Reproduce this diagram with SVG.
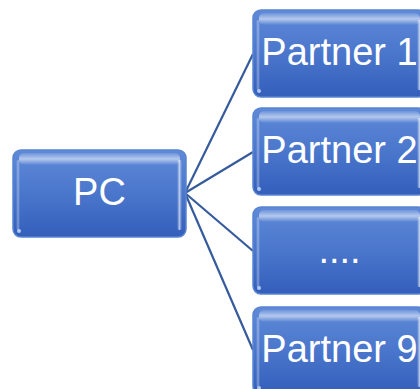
<svg xmlns="http://www.w3.org/2000/svg" width="420" height="389" viewBox="0 0 420 389">
<defs>
<linearGradient id="body" x1="0" y1="0" x2="0" y2="1">
<stop offset="0" stop-color="#5f8ad8"/>
<stop offset="0.5" stop-color="#4a76cc"/>
<stop offset="1" stop-color="#335fbb"/>
</linearGradient>
<linearGradient id="gloss" x1="0" y1="0" x2="0" y2="1">
<stop offset="0" stop-color="#ffffff" stop-opacity="0.1"/>
<stop offset="0.5" stop-color="#ffffff" stop-opacity="0.55"/>
<stop offset="1" stop-color="#ffffff" stop-opacity="0"/>
</linearGradient>
<linearGradient id="side" x1="0" y1="0" x2="1" y2="0">
<stop offset="0" stop-color="#ffffff" stop-opacity="0"/>
<stop offset="0.5" stop-color="#ffffff" stop-opacity="0.6"/>
<stop offset="1" stop-color="#ffffff" stop-opacity="0"/>
</linearGradient>
<g id="box">
<rect x="0" y="0" width="173" height="87" rx="8" fill="url(#body)" stroke="#5a84cf" stroke-width="1.5"/>
<rect x="6" y="3" width="161" height="12" rx="5" fill="url(#gloss)"/>
<rect x="164" y="10" width="5" height="70" rx="2" fill="url(#side)"/>
<rect x="3" y="10" width="4" height="70" rx="2" fill="url(#side)" opacity="0.6"/>
<circle cx="6" cy="81" r="2" fill="#cfe0ff" opacity="0.8"/>
</g>
</defs>
<style>
.lbl{font-family:"Liberation Sans",Arial,sans-serif;font-size:38px;fill:#ffffff;text-anchor:middle}
.conn{stroke:#365b9c;stroke-width:2.2;fill:none}
</style>
<g id="connectors">
<line class="conn" x1="185" y1="193" x2="253" y2="54"/>
<line class="conn" x1="185" y1="193" x2="253" y2="152"/>
<line class="conn" x1="185" y1="193" x2="253" y2="251"/>
<line class="conn" x1="185" y1="193" x2="253" y2="350"/>
</g>
<g id="pc">
<use href="#box" x="13" y="150"/>
<text class="lbl" x="99.5" y="205">PC</text>
</g>
<g id="partner1">
<use href="#box" x="253" y="10"/>
<text class="lbl" x="339.5" y="65">Partner 1</text>
</g>
<g id="partner2">
<use href="#box" x="253" y="108"/>
<text class="lbl" x="339.5" y="163">Partner 2</text>
</g>
<g id="dots">
<use href="#box" x="253" y="207"/>
<text class="lbl" x="339.5" y="263">....</text>
</g>
<g id="partner9">
<use href="#box" x="253" y="307"/>
<text class="lbl" x="339.5" y="362">Partner 9</text>
</g>
</svg>
